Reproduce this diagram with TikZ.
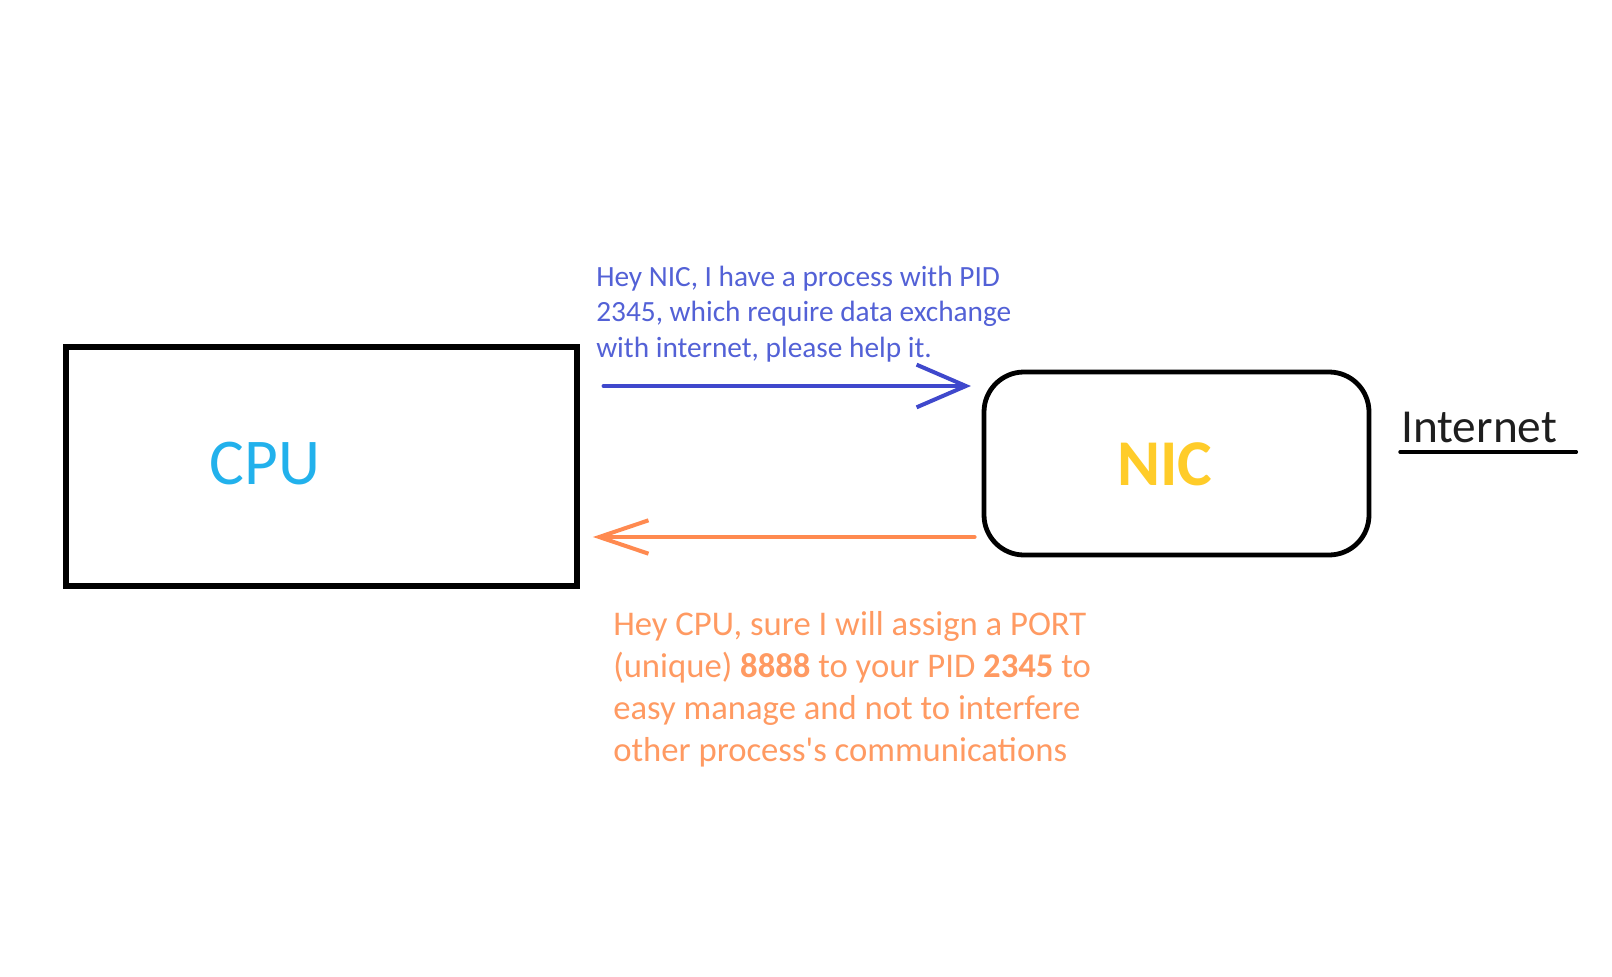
\documentclass[tikz,border=0pt]{standalone}
\usepackage{fontspec}
\setmainfont{Carlito}
\usetikzlibrary{arrows.meta,calc}

\definecolor{cpuBlue}{HTML}{22B1EC}
\definecolor{nicGold}{HTML}{FFCC29}
\definecolor{reqBlue}{HTML}{3F48CC}
\definecolor{reqText}{HTML}{5361D6}
\definecolor{ackOrange}{HTML}{FF8A50}
\definecolor{ackText}{HTML}{FF9A62}
\definecolor{inetGrey}{HTML}{1E1E1E}

\tikzset{
	unit/.style={draw=black, line width=3.8pt, inner sep=0pt},
	reqArrow/.style={draw=reqBlue, line width=3pt, line cap=round, -{Straight Barb[length=37pt,width=32pt]}},
	ackArrow/.style={draw=ackOrange, line width=3pt, line cap=round, -{Straight Barb[length=37pt,width=25pt]}},
	msg/.style={anchor=north west, inner sep=0pt, align=left},
}

\begin{document}
\begin{tikzpicture}[x=0.75pt,y=0.75pt,yscale=-1,xscale=1]
	\useasboundingbox (0,0) rectangle (1612,977);

	% CPU box
	\node [unit, minimum width=383.25pt, minimum height=179.25pt] (cpu) at (321.5,466.5) {};
	\node [inner sep=0pt, text=cpuBlue, font=\fontsize{49}{58}\selectfont] (cpuLabel) at (265,464) {CPU};

	% NIC box
	\node [unit, rounded corners=30pt, line width=3.6pt, minimum width=288.75pt, minimum height=137.25pt] (nic) at (1176.5,463.5) {};
	\node [inner sep=0pt, text=nicGold, font=\fontsize{49}{58}\selectfont\bfseries] (nicLabel) at (1165,464) {NIC};

	% Internet
	\node [anchor=base west, inner sep=0pt, text=inetGrey, font=\fontsize{35.5}{42}\selectfont] (inet) at (1401,442) {Internet};
	\draw [line width=2.6pt, line cap=round] ($(inet.base west)+(-1,10)$) -- ($(inet.base east)+(19,10)$);

	% Connection: request
	\coordinate (reqStart) at ($(cpu.east)+(24,-80.5)$);
	\draw [reqArrow, shorten >=8pt] (reqStart) -- (reqStart -| nic.west);

	% Connection: reply
	\coordinate (ackStart) at ($(nic.west)+(-7,73.5)$);
	\draw [ackArrow, shorten >=10pt] (ackStart) -- (ackStart -| cpu.east);

	% Text Node
	\node [msg, text=reqText, font=\fontsize{22}{26.5}\selectfont] (reqMsg) at (596,266)
		{Hey NIC, I have a process with PID\\2345, which require data exchange\\with internet, please help it.};
	% Text Node
	\node [msg, text=ackText, font=\fontsize{26}{31.5}\selectfont] (ackMsg) at (613,611)
		{Hey CPU, sure I will assign a PORT\\(unique) \textbf{8888} to your PID \textbf{2345} to\\easy manage and not to interfere\\other process\textquotesingle s communications};
\end{tikzpicture}
\end{document}
